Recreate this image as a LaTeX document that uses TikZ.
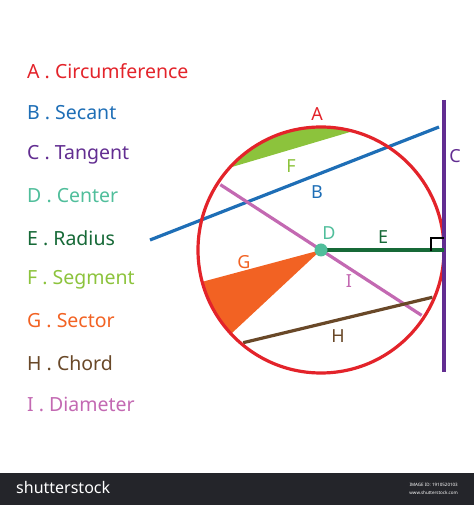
\documentclass[tikz,border=0pt]{standalone}
\usepackage{fontspec}
\setmainfont{Noto Sans}
\usetikzlibrary{calc}
\definecolor{circred}{RGB}{227,35,42}
\definecolor{secblue}{RGB}{30,110,182}
\definecolor{tanpurple}{RGB}{98,45,145}
\definecolor{centeal}{RGB}{80,190,155}
\definecolor{raddark}{RGB}{22,105,55}
\definecolor{seggreen}{RGB}{140,195,60}
\definecolor{sectorange}{RGB}{242,98,35}
\definecolor{chordbrown}{RGB}{105,72,40}
\definecolor{diampink}{RGB}{195,105,178}
\definecolor{barblack}{RGB}{36,37,42}

\begin{document}
\begin{tikzpicture}
      [x = 1pt, y = 1pt,
      line/.style = {line width = 3.2pt},
      lab/.style = {font = \fontsize{18}{18}\selectfont, inner sep = 0pt},
      legend/.style = {font = \fontsize{19.5}{19.5}\selectfont, inner sep = 0pt, anchor = west},
      dot/.style = {
         fill = centeal,
         circle,
         inner sep = 0pt,
         minimum size = 13pt
      }]

      \useasboundingbox (0, 0) rectangle (474, 505);

      \def\rad{123}
      \coordinate (D) at (321, 255);

      % legend
      \node[legend, circred] (la) at (27, 434) {A . Circumference};
      \node[legend, secblue] (lb) at (27, 392) {B . Secant};
      \node[legend, tanpurple] (lc) at (27, 350) {C . Tangent};
      \node[legend, centeal] (ld) at (27, 309) {D . Center};
      \node[legend, raddark] (le) at (27, 267) {E . Radius};
      \node[legend, seggreen] (lf) at (27, 225) {F . Segment};
      \node[legend, sectorange] (lg) at (27, 184) {G . Sector};
      \node[legend, chordbrown] (lh) at (27, 142) {H . Chord};
      \node[legend, diampink] (li) at (27, 101) {I . Diameter};

      % segment and sector
      \fill[seggreen] ($(D) + (75:\rad)$) arc (75:138:\rad) -- cycle;
      \fill[sectorange] (D) -- ($(D) + (195:\rad)$) arc (195:223:\rad) -- cycle;

      \coordinate (bl) at (150, 265);
      \coordinate (br) at (439, 378);
      \draw[line, secblue] (bl) -- (br);

      \coordinate (it) at ($(D) + (147:120)$);
      \coordinate (ib) at ($(D) + (-33:120)$);
      \draw[line, diampink] (it) -- (ib);

      \coordinate (hl) at ($(D) + (230:121)$);
      \coordinate (hr) at ($(D) + (-23:121)$);
      \draw[line, chordbrown] (hl) -- (hr);

      \draw[line, circred] (D) circle (\rad);

      \coordinate (ct) at (444, 405);
      \coordinate (cb) at (444, 133);
      \coordinate (T) at (444, 255);
      \draw[line, tanpurple] (ct) -- (cb);

      \draw[line, raddark] (D) -- (T);
      \draw[line width = 2.4pt, line cap = rect] (431, 255) -- (431, 267) -- (443, 267);

      \node[dot] (d) at (D) {};

      % labels
      \node[lab, circred] (a) at (317, 391) {A};
      \node[lab, secblue] (b) at (317, 313) {B};
      \node[lab, tanpurple] (c) at (455, 349) {C};
      \node[lab, centeal] (dl) at (329, 272) {D};
      \node[lab, raddark] (e) at (383, 268) {E};
      \node[lab, seggreen] (f) at (291, 339) {F};
      \node[lab, sectorange] (g) at (244, 243) {G};
      \node[lab, chordbrown] (h) at (338, 169) {H};
      \node[lab, diampink] (i) at (349, 224) {I};

      % bottom bar
      \fill[barblack] (0, 0) rectangle (474, 32);
      \node[anchor = west, white, inner sep = 0pt, font = \fontsize{16}{16}\selectfont\bfseries] (ss) at (16, 17) {shutterstock};
      \node[anchor = east, white, inner sep = 0pt, font = \fontsize{4.5}{4.5}\selectfont] (id) at (458, 20) {IMAGE ID: 1910520103};
      \node[anchor = east, white, inner sep = 0pt, font = \fontsize{4.5}{4.5}\selectfont] (www) at (458, 12) {www.shutterstock.com};

   \end{tikzpicture}
\end{document}
